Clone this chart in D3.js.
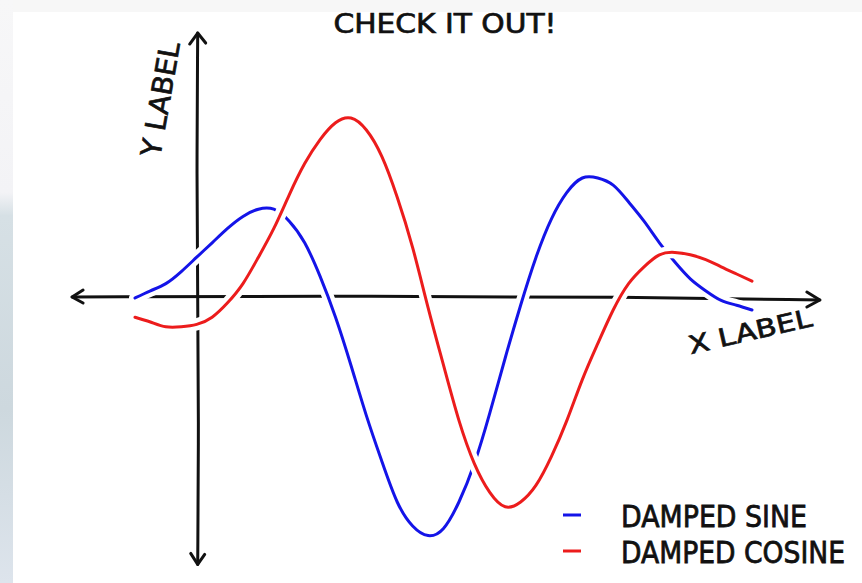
<!DOCTYPE html>
<html>
<head>
<meta charset="utf-8">
<script src="https://cdn.jsdelivr.net/npm/d3@7"></script>
<style>
  body { margin: 0; background: #ffffff; }
  svg { display: block; }
  text { font-family: "DejaVu Sans", sans-serif; fill: #111; stroke: #111; stroke-width: 0.7px; }
</style>
</head>
<body>
<div id="chart"></div>
<script>
var width = 862,
    height = 583;

// sample positions along x
var xValues = [0, 0.25, 0.5, 0.75, 1, 1.25, 1.5, 1.75, 2, 2.25, 2.5, 2.75, 3, 3.25, 3.5, 3.75,
  4, 4.25, 4.5, 4.75, 5, 5.25, 5.5, 5.75, 6, 6.25, 6.5, 6.75, 7, 7.25, 7.5, 7.75,
  8, 8.25, 8.5, 8.75, 9, 9.25, 9.5, 9.75, 10];

// values
var dampedSine = [0, 0.03, 0.06, 0.11, 0.17, 0.23, 0.29, 0.34, 0.37, 0.37, 0.32, 0.23, 0.09, -0.08, -0.28, -0.49,
  -0.68, -0.85, -0.95, -0.99, -0.96, -0.85, -0.69, -0.48, -0.25, -0.03, 0.17, 0.33, 0.44, 0.50, 0.50, 0.47,
  0.40, 0.32, 0.23, 0.15, 0.08, 0.03, -0.01, -0.03, -0.05];
var dampedCosine = [-0.08, -0.10, -0.12, -0.12, -0.11, -0.08, -0.02, 0.06, 0.17, 0.29, 0.43, 0.56, 0.66, 0.73, 0.75, 0.70,
  0.59, 0.42, 0.21, -0.04, -0.28, -0.51, -0.69, -0.81, -0.87, -0.85, -0.78, -0.66, -0.51, -0.34, -0.19, -0.05,
  0.06, 0.13, 0.18, 0.19, 0.18, 0.16, 0.13, 0.10, 0.07];

var seriesNames = ["DAMPED SINE", "DAMPED COSINE"];
var seriesColors = ["#1414e8", "#ec1c1c"];
var titleText = "CHECK IT OUT!";
var xLabel = "X LABEL";
var yLabel = "Y LABEL";

var svg = d3.select("#chart")
  .append("svg")
    .attr("width", width)
    .attr("height", height);

// page background strips (top and left edges)
var defs = svg.append("defs");
var grad = defs.append("linearGradient")
    .attr("id", "edge")
    .attr("x1", 0).attr("y1", 0).attr("x2", 0).attr("y2", 1);
grad.append("stop").attr("offset", "0%").attr("stop-color", "#f7f7f8");
grad.append("stop").attr("offset", "33%").attr("stop-color", "#f3f3f6");
grad.append("stop").attr("offset", "37%").attr("stop-color", "#d6e0e5");
grad.append("stop").attr("offset", "70%").attr("stop-color", "#cdd8de");
grad.append("stop").attr("offset", "100%").attr("stop-color", "#dde4ec");

svg.append("rect").attr("width", width).attr("height", 12).attr("fill", "#f7f7f7");
svg.append("rect").attr("width", 13).attr("height", height).attr("fill", "url(#edge)");

// scales
var x = d3.scaleLinear().domain([0, 10]).range([135, 752]);
var y = d3.scaleLinear().domain([-1, 1]).range([538, 58]);

var axes = svg.append("g")
    .attr("stroke", "#111")
    .attr("stroke-width", 3)
    .attr("stroke-linecap", "round")
    .attr("stroke-linejoin", "round")
    .attr("fill", "none");

// x axis with arrows at both ends
var xl = x(-1.02), xr = x(11.1), y0 = y(0);
axes.append("path")
    .attr("d", d3.line().curve(d3.curveBasis)([[xl, y0 - 1], [x(4), y0 - 2], [x(8), y0 - 1], [xr, y0 + 2]]));
axes.append("path").attr("d", d3.line()([[xl + 11, y0 - 8], [xl, y0 - 1], [xl + 11, y0 + 5]]));
axes.append("path").attr("d", d3.line()([[xr - 13, y0 - 6], [xr, y0 + 2], [xr - 13, y0 + 9]]));

// y axis at x = 1
var yx = x(1) + 1, yt = y(1.104), yb = y(-1.11);
axes.append("path")
    .attr("d", d3.line().curve(d3.curveBasis)([[yx, yt], [yx - 1, y(0.5)], [yx, y(0)], [yx + 1, y(-0.5)], [yx, yb]]));
axes.append("path").attr("d", d3.line()([[yx - 8, yt + 11], [yx, yt], [yx + 8, yt + 10]]));
axes.append("path").attr("d", d3.line()([[yx - 7, yb - 11], [yx, yb], [yx + 7, yb - 10]]));

// axis labels
svg.append("text")
    .attr("transform", "translate(170,101) rotate(-80)")
    .attr("text-anchor", "middle")
    .attr("font-size", 28)
    .attr("textLength", 116)
    .attr("lengthAdjust", "spacingAndGlyphs")
    .text(yLabel);

svg.append("text")
    .attr("transform", "translate(752,340) rotate(-13)")
    .attr("text-anchor", "middle")
    .attr("font-size", 25)
    .attr("textLength", 126)
    .attr("lengthAdjust", "spacingAndGlyphs")
    .text(xLabel);

svg.append("text")
    .attr("x", 445)
    .attr("y", 33)
    .attr("text-anchor", "middle")
    .attr("font-size", 26)
    .attr("textLength", 223)
    .attr("lengthAdjust", "spacingAndGlyphs")
    .text(titleText);

// the two curves, each with a white halo underneath
var line = d3.line()
    .x(function(d) { return x(d[0]); })
    .y(function(d) { return y(d[1]); })
    .curve(d3.curveNatural);

var series = [dampedSine, dampedCosine].map(function(vals, i) {
  return { name: seriesNames[i], color: seriesColors[i], points: xValues.map(function(v, j) { return [v, vals[j]]; }) };
});

series.forEach(function(s) {
  var g = svg.append("g").attr("fill", "none").attr("stroke-linecap", "round");
  g.append("path")
      .attr("d", line(s.points))
      .attr("stroke", "#ffffff")
      .attr("stroke-width", 12);
  g.append("path")
      .attr("d", line(s.points))
      .attr("stroke", s.color)
      .attr("stroke-width", 3);
});

// legend, lower right
var legend = svg.append("g")
  .selectAll("g")
  .data(series)
  .enter()
  .append("g")
    .attr("transform", function(d, i) { return "translate(563," + (515 + i * 36) + ")"; });

legend.append("line")
    .attr("x1", 0).attr("x2", 18)
    .attr("stroke", function(d) { return d.color; })
    .attr("stroke-width", 3);

legend.append("text")
    .attr("transform", "translate(58,12) scale(1,1.15)")
    .attr("font-size", 26)
    .attr("textLength", function(d, i) { return i === 0 ? 186 : 224; })
    .attr("lengthAdjust", "spacingAndGlyphs")
    .text(function(d) { return d.name; });
</script>
</body>
</html>
